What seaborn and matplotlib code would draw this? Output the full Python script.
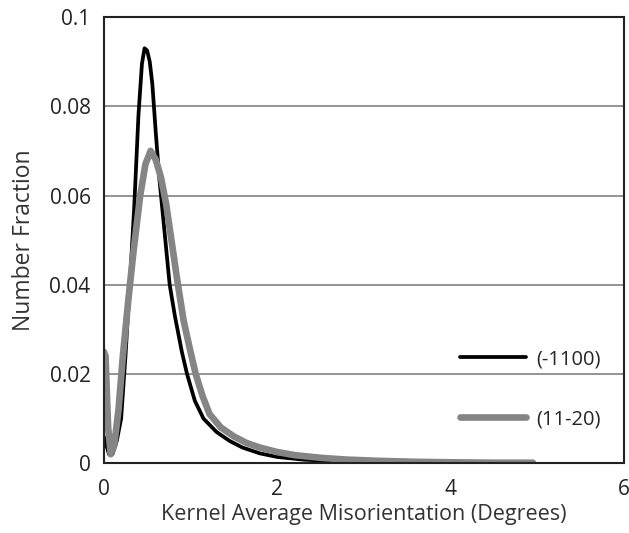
import pandas as pd
import matplotlib.pyplot as plt
import seaborn as sns

# -----------------------------
# Data
# -----------------------------
x_1100 = [0.0, 0.03, 0.06, 0.1, 0.15, 0.2, 0.25, 0.3, 0.35, 0.4, 0.44, 0.47,
          0.5, 0.53, 0.56, 0.6, 0.64, 0.7, 0.76, 0.82, 0.9, 0.96, 1.05, 1.15,
          1.3, 1.45, 1.6, 1.8, 2.0, 2.3, 2.6, 3.0, 3.5, 4.0, 4.5, 4.95]
y_1100 = [0.006, 0.004, 0.002, 0.002, 0.005, 0.010, 0.024, 0.040, 0.057, 0.078,
          0.0895, 0.093, 0.0925, 0.090, 0.085, 0.074, 0.064, 0.052, 0.040, 0.033,
          0.025, 0.020, 0.014, 0.010, 0.007, 0.005, 0.0035, 0.0022, 0.0014,
          0.0008, 0.0005, 0.0003, 0.0002, 0.0001, 0.0001, 0.0001]

x_1120 = [0.0, 0.02, 0.05, 0.08, 0.12, 0.17, 0.22, 0.28, 0.34, 0.42, 0.48, 0.54,
          0.6, 0.66, 0.72, 0.78, 0.84, 0.92, 1.0, 1.06, 1.14, 1.22, 1.35, 1.5,
          1.65, 1.8, 2.0, 2.2, 2.5, 2.8, 3.2, 3.6, 4.0, 4.5, 4.95]
y_1120 = [0.025, 0.024, 0.008, 0.002, 0.004, 0.012, 0.024, 0.036, 0.047, 0.060,
          0.067, 0.070, 0.068, 0.064, 0.058, 0.050, 0.042, 0.032, 0.025, 0.020,
          0.015, 0.011, 0.008, 0.006, 0.0045, 0.0035, 0.0025, 0.0018, 0.0012,
          0.0008, 0.0005, 0.0003, 0.0002, 0.0001, 0.0001]

labels = ["(-1100)", "(11-20)"]
y_ticks = [0, 0.02, 0.04, 0.06, 0.08, 0.1]
y_tick_labels = ["0", "0.02", "0.04", "0.06", "0.08", "0.1"]
x_ticks = [0, 2, 4, 6]

df = pd.concat([
    pd.DataFrame({"kam": x_1100, "frac": y_1100, "plane": labels[0]}),
    pd.DataFrame({"kam": x_1120, "frac": y_1120, "plane": labels[1]}),
])

# -----------------------------
# Style
# -----------------------------
sns.set_style("white")
plt.rcParams["font.family"] = ["Open Sans", "DejaVu Sans"]

fig = plt.figure(figsize=(6.29, 5.33), dpi=100)
ax = fig.add_axes([0.165, 0.131, 0.827, 0.837])

# horizontal gridlines
ax.yaxis.grid(True, color="#8a8a8a", linewidth=1.3)
ax.set_axisbelow(True)

sns.lineplot(
    data=df, x="kam", y="frac", hue="plane", size="plane",
    hue_order=labels, size_order=labels,
    palette={labels[0]: "#000000", labels[1]: "#858585"},
    sizes={labels[0]: 2.7, labels[1]: 4.8},
    sort=False, estimator=None, ax=ax,
)

ax.set_xlim(0, 6)
ax.set_ylim(0, 0.1)
ax.set_xticks(x_ticks)
ax.set_xticklabels([str(t) for t in x_ticks])
ax.set_yticks(y_ticks)
ax.set_yticklabels(y_tick_labels)

ax.tick_params(axis="both", direction="inout", length=9, width=1.4,
               labelsize=15, colors="#222222")
ax.tick_params(axis="x", pad=7)
ax.tick_params(axis="y", pad=5)
for side in ["left", "bottom", "top", "right"]:
    ax.spines[side].set_color("#222222")
    ax.spines[side].set_linewidth(1.5)

ax.set_xlabel("Kernel Average Misorientation (Degrees)", fontsize=15.5, color="#333333", labelpad=3)
ax.set_ylabel("Number Fraction", fontsize=16.5, color="#333333", labelpad=10)

ax.legend(
    loc="lower right", bbox_to_anchor=(0.99, 0.035), frameon=False,
    fontsize=14.5, handlelength=3.3, labelspacing=2.0, handletextpad=0.5,
    title=None,
)

plt.savefig("out.png", dpi=100)
